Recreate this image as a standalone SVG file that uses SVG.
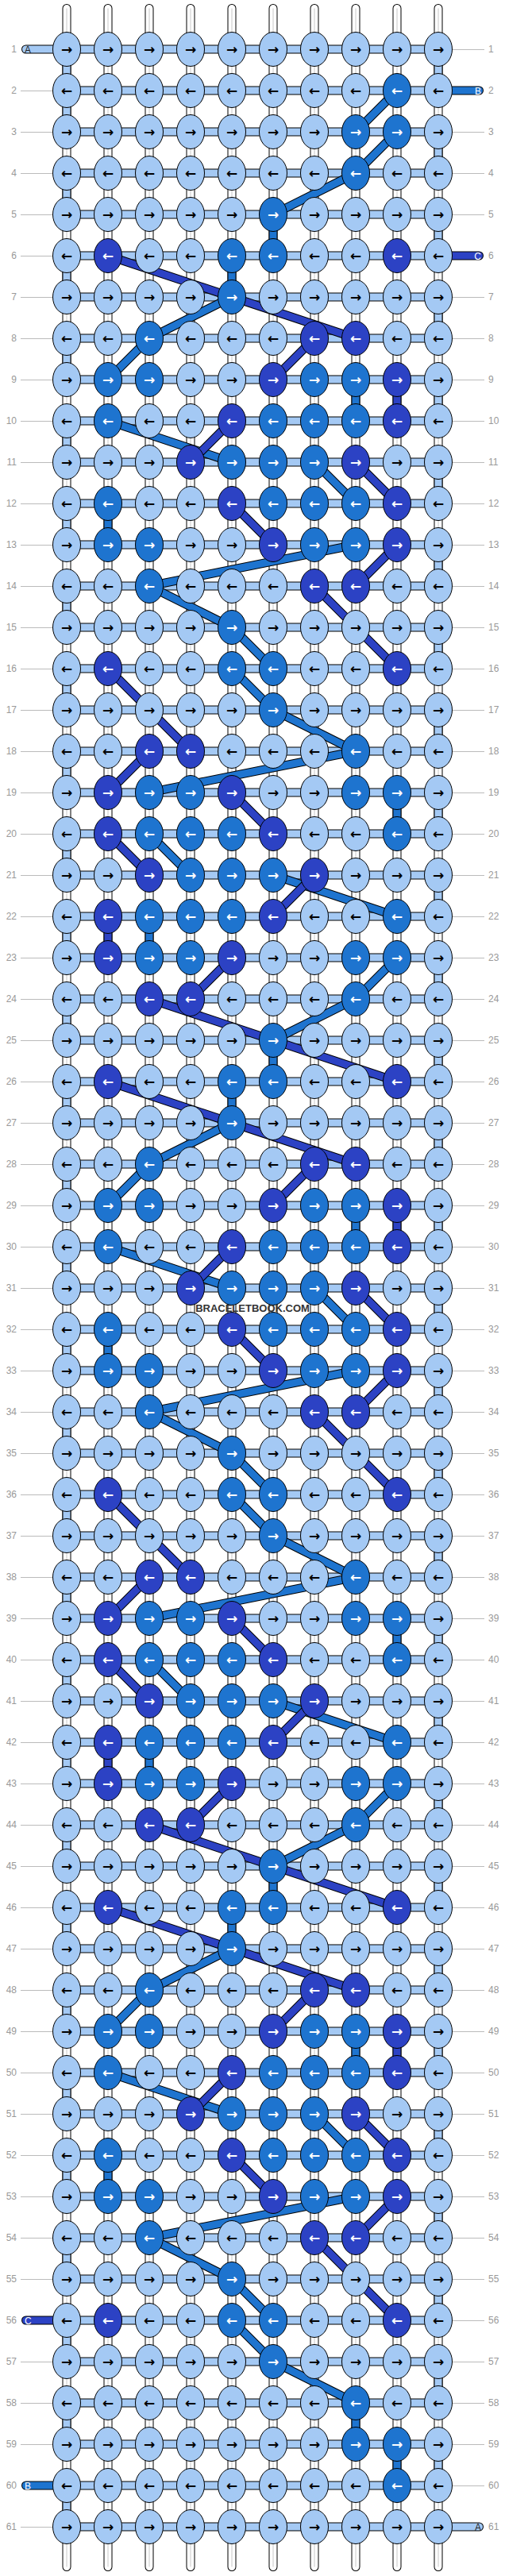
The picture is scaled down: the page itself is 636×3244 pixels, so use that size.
<svg xmlns="http://www.w3.org/2000/svg" xmlns:xlink="http://www.w3.org/1999/xlink" width="636" height="3244" viewBox="0 0 636 3244">
<style>
.sb{stroke:#000;stroke-width:11;stroke-linecap:round;fill:none}
.sw{stroke:#fff;stroke-width:9;stroke-linecap:round;fill:none}
.sg{stroke:#c8c8c8;stroke-width:1;fill:none}
.ob{stroke:#000;stroke-width:11;fill:none}
.obr{stroke:#000;stroke-width:11;stroke-linecap:round;fill:none}
.fl{stroke:#A4C9F4;stroke-width:9;fill:none}
.fm{stroke:#1E74CF;stroke-width:9;fill:none}
.fd{stroke:#2C42C4;stroke-width:9;fill:none}
.rc{stroke-linecap:round}
.ln{stroke:#bbb;stroke-width:1;fill:none}
.ar{font-family:"DejaVu Sans",sans-serif;font-size:17px;font-weight:bold;text-anchor:middle}
.num{font-family:"Liberation Sans",Arial,sans-serif;font-size:12px;fill:#999}
.lab{font-family:"Liberation Sans",Arial,sans-serif;font-size:12px}
.e1{text-anchor:end}
.nL{fill:#A4C9F4;stroke:#000;stroke-width:1}
.nM{fill:#1E74CF;stroke:#000;stroke-width:1}
.nD{fill:#2C42C4;stroke:#000;stroke-width:1}
</style>
<defs>
<g id="Lr"><ellipse class="nL" rx="17.5" ry="21.5"/><text class="ar" y="5.8" fill="#000">→</text></g>
<g id="Ll"><ellipse class="nL" rx="17.5" ry="21.5"/><text class="ar" y="5.8" fill="#000">←</text></g>
<g id="Mr"><ellipse class="nM" rx="17.5" ry="21.5"/><text class="ar" y="5.8" fill="#fff">→</text></g>
<g id="Ml"><ellipse class="nM" rx="17.5" ry="21.5"/><text class="ar" y="5.8" fill="#fff">←</text></g>
<g id="Dr"><ellipse class="nD" rx="17.5" ry="21.5"/><text class="ar" y="5.8" fill="#fff">→</text></g>
<g id="Dl"><ellipse class="nD" rx="17.5" ry="21.5"/><text class="ar" y="5.8" fill="#fff">←</text></g>
<path id="strings" d="M84 10.5V3232.5M136 10.5V3232.5M188 10.5V3232.5M240 10.5V3232.5M292 10.5V3232.5M344 10.5V3232.5M396 10.5V3232.5M448 10.5V3232.5M500 10.5V3232.5M552 10.5V3232.5"/>
<path id="horiz" d="M84 62H552M84 114H552M84 166H552M84 218H552M84 270H552M84 322H552M84 374H552M84 426H552M84 478H552M84 530H552M84 582H552M84 634H552M84 686H552M84 738H552M84 790H552M84 842H552M84 894H552M84 946H552M84 998H552M84 1050H552M84 1102H552M84 1154H552M84 1206H552M84 1258H552M84 1310H552M84 1362H552M84 1414H552M84 1466H552M84 1518H552M84 1570H552M84 1622H552M84 1674H552M84 1726H552M84 1778H552M84 1830H552M84 1882H552M84 1934H552M84 1986H552M84 2038H552M84 2090H552M84 2142H552M84 2194H552M84 2246H552M84 2298H552M84 2350H552M84 2402H552M84 2454H552M84 2506H552M84 2558H552M84 2610H552M84 2662H552M84 2714H552M84 2766H552M84 2818H552M84 2870H552M84 2922H552M84 2974H552M84 3026H552M84 3078H552M84 3130H552M84 3182H552"/>
<path id="bandM" d="M500 114L448 166M500 166L448 218M448 218L344 270M344 270V322
M292 322V374M292 374L188 426M188 426L136 478M448 478V530M136 530L292 582M396 582L448 634M136 634V686M448 686L188 738M188 738L292 790M292 790L344 842M292 842L344 894M344 894L448 946M448 946L188 998M500 998V1050M188 1050L240 1102M344 1102L500 1154M188 1154V1206M500 1206L448 1258M448 1258L344 1310M344 1310V1362
M292 1362V1414M292 1414L188 1466M188 1466L136 1518M448 1518V1570M136 1570L292 1622M396 1622L448 1674M136 1674V1726M448 1726L188 1778M188 1778L292 1830M292 1830L344 1882M292 1882L344 1934M344 1934L448 1986M448 1986L188 2038M500 2038V2090M188 2090L240 2142M344 2142L500 2194M188 2194V2246M500 2246L448 2298M448 2298L344 2350M344 2350V2402
M292 2402V2454M292 2454L188 2506M188 2506L136 2558M448 2558V2610M136 2610L292 2662M396 2662L448 2714M136 2714V2766M448 2766L188 2818M188 2818L292 2870M292 2870L344 2922M292 2922L344 2974M344 2974L448 3026M448 3026V3078M500 3078V3130"/>
<path id="bandD" d="M136 322L448 426M396 426L344 478M500 478V530M292 530L240 582M448 582L500 634M292 634L344 686M500 686L448 738M396 738L500 842M136 842L240 946M188 946L136 998M292 998L344 1050M136 1050L188 1102M396 1102L344 1154M136 1154V1206M292 1206L240 1258M188 1258L500 1362
M136 1362L448 1466M396 1466L344 1518M500 1518V1570M292 1570L240 1622M448 1622L500 1674M292 1674L344 1726M500 1726L448 1778M396 1778L500 1882M136 1882L240 1986M188 1986L136 2038M292 2038L344 2090M136 2090L188 2142M396 2142L344 2194M136 2194V2246M292 2246L240 2298M188 2298L500 2402
M136 2402L448 2506M396 2506L344 2558M500 2558V2610M292 2610L240 2662M448 2662L500 2714M292 2714L344 2766M500 2766L448 2818M396 2818L500 2922"/>
</defs>
<rect width="636" height="3244" fill="#fff"/>
<g id="connectors">
<use href="#strings" class="sb"/>
<use href="#strings" class="sw"/>
<use href="#strings" class="sg"/>
<use href="#horiz" class="ob"/>
<use href="#horiz" class="fl"/>
<path class="ob" d="M84 62V114"/><path class="fl" d="M84 62V114"/>
<path class="ob" d="M84 114V3182" stroke-dasharray="52 52"/><path class="fl" d="M84 114V3182" stroke-dasharray="52 52"/>
<path class="ob" d="M552 62V3130" stroke-dasharray="52 52"/><path class="fl" d="M552 62V3130" stroke-dasharray="52 52"/>
<path class="ln" d="M26 114.5H66M26 166.5H66M26 218.5H66M26 270.5H66M26 322.5H66M26 374.5H66M26 426.5H66M26 478.5H66M26 530.5H66M26 582.5H66M26 634.5H66M26 686.5H66M26 738.5H66M26 790.5H66M26 842.5H66M26 894.5H66M26 946.5H66M26 998.5H66M26 1050.5H66M26 1102.5H66M26 1154.5H66M26 1206.5H66M26 1258.5H66M26 1310.5H66M26 1362.5H66M26 1414.5H66M26 1466.5H66M26 1518.5H66M26 1570.5H66M26 1622.5H66M26 1674.5H66M26 1726.5H66M26 1778.5H66M26 1830.5H66M26 1882.5H66M26 1934.5H66M26 1986.5H66M26 2038.5H66M26 2090.5H66M26 2142.5H66M26 2194.5H66M26 2246.5H66M26 2298.5H66M26 2350.5H66M26 2402.5H66M26 2454.5H66M26 2506.5H66M26 2558.5H66M26 2610.5H66M26 2662.5H66M26 2714.5H66M26 2766.5H66M26 2818.5H66M26 2870.5H66M26 2974.5H66M26 3026.5H66M26 3078.5H66M26 3182.5H66"/>
<path class="ln" d="M570 62.5H610M570 166.5H610M570 218.5H610M570 270.5H610M570 374.5H610M570 426.5H610M570 478.5H610M570 530.5H610M570 582.5H610M570 634.5H610M570 686.5H610M570 738.5H610M570 790.5H610M570 842.5H610M570 894.5H610M570 946.5H610M570 998.5H610M570 1050.5H610M570 1102.5H610M570 1154.5H610M570 1206.5H610M570 1258.5H610M570 1310.5H610M570 1362.5H610M570 1414.5H610M570 1466.5H610M570 1518.5H610M570 1570.5H610M570 1622.5H610M570 1674.5H610M570 1726.5H610M570 1778.5H610M570 1830.5H610M570 1882.5H610M570 1934.5H610M570 1986.5H610M570 2038.5H610M570 2090.5H610M570 2142.5H610M570 2194.5H610M570 2246.5H610M570 2298.5H610M570 2350.5H610M570 2402.5H610M570 2454.5H610M570 2506.5H610M570 2558.5H610M570 2610.5H610M570 2662.5H610M570 2714.5H610M570 2766.5H610M570 2818.5H610M570 2870.5H610M570 2922.5H610M570 2974.5H610M570 3026.5H610M570 3078.5H610M570 3130.5H610"/>
<use href="#bandM" class="ob"/>
<use href="#bandM" class="fm"/>
<use href="#bandD" class="ob"/>
<use href="#bandD" class="fd"/>
<g id="stubs">
<path class="obr" d="M32.5 62H84"/><path class="fl rc" d="M32.5 62H84"/>
<path class="obr" d="M552 114H603.5"/><path class="fm rc" d="M552 114H603.5"/>
<path class="obr" d="M552 322H603.5"/><path class="fd rc" d="M552 322H603.5"/>
<path class="obr" d="M32.5 2922H84"/><path class="fd rc" d="M32.5 2922H84"/>
<path class="obr" d="M32.5 3130H84"/><path class="fm rc" d="M32.5 3130H84"/>
<path class="obr" d="M552 3182H603.5"/><path class="fl rc" d="M552 3182H603.5"/>
<text class="lab" x="31" y="66.5" fill="#222">A</text>
<text class="lab e1" x="606" y="118.5" fill="#fff">B</text>
<text class="lab e1" x="606" y="326.5" fill="#fff">C</text>
<text class="lab" x="31" y="2926.5" fill="#fff">C</text>
<text class="lab" x="31" y="3134.5" fill="#fff">B</text>
<text class="lab e1" x="606" y="3186.5" fill="#222">A</text>
</g>
</g>
<g id="rownumbers" class="num">
<g class="e1">
<text x="21" y="66">1</text><text x="21" y="118">2</text><text x="21" y="170">3</text><text x="21" y="222">4</text><text x="21" y="274">5</text><text x="21" y="326">6</text><text x="21" y="378">7</text><text x="21" y="430">8</text><text x="21" y="482">9</text><text x="21" y="534">10</text><text x="21" y="586">11</text><text x="21" y="638">12</text><text x="21" y="690">13</text><text x="21" y="742">14</text><text x="21" y="794">15</text><text x="21" y="846">16</text><text x="21" y="898">17</text><text x="21" y="950">18</text><text x="21" y="1002">19</text><text x="21" y="1054">20</text><text x="21" y="1106">21</text><text x="21" y="1158">22</text><text x="21" y="1210">23</text><text x="21" y="1262">24</text><text x="21" y="1314">25</text><text x="21" y="1366">26</text><text x="21" y="1418">27</text><text x="21" y="1470">28</text><text x="21" y="1522">29</text><text x="21" y="1574">30</text><text x="21" y="1626">31</text><text x="21" y="1678">32</text><text x="21" y="1730">33</text><text x="21" y="1782">34</text><text x="21" y="1834">35</text><text x="21" y="1886">36</text><text x="21" y="1938">37</text><text x="21" y="1990">38</text><text x="21" y="2042">39</text><text x="21" y="2094">40</text><text x="21" y="2146">41</text><text x="21" y="2198">42</text><text x="21" y="2250">43</text><text x="21" y="2302">44</text><text x="21" y="2354">45</text><text x="21" y="2406">46</text><text x="21" y="2458">47</text><text x="21" y="2510">48</text><text x="21" y="2562">49</text><text x="21" y="2614">50</text><text x="21" y="2666">51</text><text x="21" y="2718">52</text><text x="21" y="2770">53</text><text x="21" y="2822">54</text><text x="21" y="2874">55</text><text x="21" y="2926">56</text><text x="21" y="2978">57</text><text x="21" y="3030">58</text><text x="21" y="3082">59</text><text x="21" y="3134">60</text><text x="21" y="3186">61</text>
</g>
<text x="615" y="66">1</text><text x="615" y="118">2</text><text x="615" y="170">3</text><text x="615" y="222">4</text><text x="615" y="274">5</text><text x="615" y="326">6</text><text x="615" y="378">7</text><text x="615" y="430">8</text><text x="615" y="482">9</text><text x="615" y="534">10</text><text x="615" y="586">11</text><text x="615" y="638">12</text><text x="615" y="690">13</text><text x="615" y="742">14</text><text x="615" y="794">15</text><text x="615" y="846">16</text><text x="615" y="898">17</text><text x="615" y="950">18</text><text x="615" y="1002">19</text><text x="615" y="1054">20</text><text x="615" y="1106">21</text><text x="615" y="1158">22</text><text x="615" y="1210">23</text><text x="615" y="1262">24</text><text x="615" y="1314">25</text><text x="615" y="1366">26</text><text x="615" y="1418">27</text><text x="615" y="1470">28</text><text x="615" y="1522">29</text><text x="615" y="1574">30</text><text x="615" y="1626">31</text><text x="615" y="1678">32</text><text x="615" y="1730">33</text><text x="615" y="1782">34</text><text x="615" y="1834">35</text><text x="615" y="1886">36</text><text x="615" y="1938">37</text><text x="615" y="1990">38</text><text x="615" y="2042">39</text><text x="615" y="2094">40</text><text x="615" y="2146">41</text><text x="615" y="2198">42</text><text x="615" y="2250">43</text><text x="615" y="2302">44</text><text x="615" y="2354">45</text><text x="615" y="2406">46</text><text x="615" y="2458">47</text><text x="615" y="2510">48</text><text x="615" y="2562">49</text><text x="615" y="2614">50</text><text x="615" y="2666">51</text><text x="615" y="2718">52</text><text x="615" y="2770">53</text><text x="615" y="2822">54</text><text x="615" y="2874">55</text><text x="615" y="2926">56</text><text x="615" y="2978">57</text><text x="615" y="3030">58</text><text x="615" y="3082">59</text><text x="615" y="3134">60</text><text x="615" y="3186">61</text>
</g>
<g id="nodes">
<use id="n1-1" href="#Lr" x="84" y="62"/><use id="n1-2" href="#Lr" x="136" y="62"/><use id="n1-3" href="#Lr" x="188" y="62"/><use id="n1-4" href="#Lr" x="240" y="62"/><use id="n1-5" href="#Lr" x="292" y="62"/><use id="n1-6" href="#Lr" x="344" y="62"/><use id="n1-7" href="#Lr" x="396" y="62"/><use id="n1-8" href="#Lr" x="448" y="62"/><use id="n1-9" href="#Lr" x="500" y="62"/><use id="n1-10" href="#Lr" x="552" y="62"/>
<use id="n2-1" href="#Ll" x="84" y="114"/><use id="n2-2" href="#Ll" x="136" y="114"/><use id="n2-3" href="#Ll" x="188" y="114"/><use id="n2-4" href="#Ll" x="240" y="114"/><use id="n2-5" href="#Ll" x="292" y="114"/><use id="n2-6" href="#Ll" x="344" y="114"/><use id="n2-7" href="#Ll" x="396" y="114"/><use id="n2-8" href="#Ll" x="448" y="114"/><use id="n2-9" href="#Ml" x="500" y="114"/><use id="n2-10" href="#Ll" x="552" y="114"/>
<use id="n3-1" href="#Lr" x="84" y="166"/><use id="n3-2" href="#Lr" x="136" y="166"/><use id="n3-3" href="#Lr" x="188" y="166"/><use id="n3-4" href="#Lr" x="240" y="166"/><use id="n3-5" href="#Lr" x="292" y="166"/><use id="n3-6" href="#Lr" x="344" y="166"/><use id="n3-7" href="#Lr" x="396" y="166"/><use id="n3-8" href="#Mr" x="448" y="166"/><use id="n3-9" href="#Mr" x="500" y="166"/><use id="n3-10" href="#Lr" x="552" y="166"/>
<use id="n4-1" href="#Ll" x="84" y="218"/><use id="n4-2" href="#Ll" x="136" y="218"/><use id="n4-3" href="#Ll" x="188" y="218"/><use id="n4-4" href="#Ll" x="240" y="218"/><use id="n4-5" href="#Ll" x="292" y="218"/><use id="n4-6" href="#Ll" x="344" y="218"/><use id="n4-7" href="#Ll" x="396" y="218"/><use id="n4-8" href="#Ml" x="448" y="218"/><use id="n4-9" href="#Ll" x="500" y="218"/><use id="n4-10" href="#Ll" x="552" y="218"/>
<use id="n5-1" href="#Lr" x="84" y="270"/><use id="n5-2" href="#Lr" x="136" y="270"/><use id="n5-3" href="#Lr" x="188" y="270"/><use id="n5-4" href="#Lr" x="240" y="270"/><use id="n5-5" href="#Lr" x="292" y="270"/><use id="n5-6" href="#Mr" x="344" y="270"/><use id="n5-7" href="#Lr" x="396" y="270"/><use id="n5-8" href="#Lr" x="448" y="270"/><use id="n5-9" href="#Lr" x="500" y="270"/><use id="n5-10" href="#Lr" x="552" y="270"/>
<use id="n6-1" href="#Ll" x="84" y="322"/><use id="n6-2" href="#Dl" x="136" y="322"/><use id="n6-3" href="#Ll" x="188" y="322"/><use id="n6-4" href="#Ll" x="240" y="322"/><use id="n6-5" href="#Ml" x="292" y="322"/><use id="n6-6" href="#Ml" x="344" y="322"/><use id="n6-7" href="#Ll" x="396" y="322"/><use id="n6-8" href="#Ll" x="448" y="322"/><use id="n6-9" href="#Dl" x="500" y="322"/><use id="n6-10" href="#Ll" x="552" y="322"/>
<use id="n7-1" href="#Lr" x="84" y="374"/><use id="n7-2" href="#Lr" x="136" y="374"/><use id="n7-3" href="#Lr" x="188" y="374"/><use id="n7-4" href="#Lr" x="240" y="374"/><use id="n7-5" href="#Mr" x="292" y="374"/><use id="n7-6" href="#Lr" x="344" y="374"/><use id="n7-7" href="#Lr" x="396" y="374"/><use id="n7-8" href="#Lr" x="448" y="374"/><use id="n7-9" href="#Lr" x="500" y="374"/><use id="n7-10" href="#Lr" x="552" y="374"/>
<use id="n8-1" href="#Ll" x="84" y="426"/><use id="n8-2" href="#Ll" x="136" y="426"/><use id="n8-3" href="#Ml" x="188" y="426"/><use id="n8-4" href="#Ll" x="240" y="426"/><use id="n8-5" href="#Ll" x="292" y="426"/><use id="n8-6" href="#Ll" x="344" y="426"/><use id="n8-7" href="#Dl" x="396" y="426"/><use id="n8-8" href="#Dl" x="448" y="426"/><use id="n8-9" href="#Ll" x="500" y="426"/><use id="n8-10" href="#Ll" x="552" y="426"/>
<use id="n9-1" href="#Lr" x="84" y="478"/><use id="n9-2" href="#Mr" x="136" y="478"/><use id="n9-3" href="#Mr" x="188" y="478"/><use id="n9-4" href="#Lr" x="240" y="478"/><use id="n9-5" href="#Lr" x="292" y="478"/><use id="n9-6" href="#Dr" x="344" y="478"/><use id="n9-7" href="#Mr" x="396" y="478"/><use id="n9-8" href="#Mr" x="448" y="478"/><use id="n9-9" href="#Dr" x="500" y="478"/><use id="n9-10" href="#Lr" x="552" y="478"/>
<use id="n10-1" href="#Ll" x="84" y="530"/><use id="n10-2" href="#Ml" x="136" y="530"/><use id="n10-3" href="#Ll" x="188" y="530"/><use id="n10-4" href="#Ll" x="240" y="530"/><use id="n10-5" href="#Dl" x="292" y="530"/><use id="n10-6" href="#Ml" x="344" y="530"/><use id="n10-7" href="#Ml" x="396" y="530"/><use id="n10-8" href="#Ml" x="448" y="530"/><use id="n10-9" href="#Dl" x="500" y="530"/><use id="n10-10" href="#Ll" x="552" y="530"/>
<use id="n11-1" href="#Lr" x="84" y="582"/><use id="n11-2" href="#Lr" x="136" y="582"/><use id="n11-3" href="#Lr" x="188" y="582"/><use id="n11-4" href="#Dr" x="240" y="582"/><use id="n11-5" href="#Mr" x="292" y="582"/><use id="n11-6" href="#Mr" x="344" y="582"/><use id="n11-7" href="#Mr" x="396" y="582"/><use id="n11-8" href="#Dr" x="448" y="582"/><use id="n11-9" href="#Lr" x="500" y="582"/><use id="n11-10" href="#Lr" x="552" y="582"/>
<use id="n12-1" href="#Ll" x="84" y="634"/><use id="n12-2" href="#Ml" x="136" y="634"/><use id="n12-3" href="#Ll" x="188" y="634"/><use id="n12-4" href="#Ll" x="240" y="634"/><use id="n12-5" href="#Dl" x="292" y="634"/><use id="n12-6" href="#Ml" x="344" y="634"/><use id="n12-7" href="#Ml" x="396" y="634"/><use id="n12-8" href="#Ml" x="448" y="634"/><use id="n12-9" href="#Dl" x="500" y="634"/><use id="n12-10" href="#Ll" x="552" y="634"/>
<use id="n13-1" href="#Lr" x="84" y="686"/><use id="n13-2" href="#Mr" x="136" y="686"/><use id="n13-3" href="#Mr" x="188" y="686"/><use id="n13-4" href="#Lr" x="240" y="686"/><use id="n13-5" href="#Lr" x="292" y="686"/><use id="n13-6" href="#Dr" x="344" y="686"/><use id="n13-7" href="#Mr" x="396" y="686"/><use id="n13-8" href="#Mr" x="448" y="686"/><use id="n13-9" href="#Dr" x="500" y="686"/><use id="n13-10" href="#Lr" x="552" y="686"/>
<use id="n14-1" href="#Ll" x="84" y="738"/><use id="n14-2" href="#Ll" x="136" y="738"/><use id="n14-3" href="#Ml" x="188" y="738"/><use id="n14-4" href="#Ll" x="240" y="738"/><use id="n14-5" href="#Ll" x="292" y="738"/><use id="n14-6" href="#Ll" x="344" y="738"/><use id="n14-7" href="#Dl" x="396" y="738"/><use id="n14-8" href="#Dl" x="448" y="738"/><use id="n14-9" href="#Ll" x="500" y="738"/><use id="n14-10" href="#Ll" x="552" y="738"/>
<use id="n15-1" href="#Lr" x="84" y="790"/><use id="n15-2" href="#Lr" x="136" y="790"/><use id="n15-3" href="#Lr" x="188" y="790"/><use id="n15-4" href="#Lr" x="240" y="790"/><use id="n15-5" href="#Mr" x="292" y="790"/><use id="n15-6" href="#Lr" x="344" y="790"/><use id="n15-7" href="#Lr" x="396" y="790"/><use id="n15-8" href="#Lr" x="448" y="790"/><use id="n15-9" href="#Lr" x="500" y="790"/><use id="n15-10" href="#Lr" x="552" y="790"/>
<use id="n16-1" href="#Ll" x="84" y="842"/><use id="n16-2" href="#Dl" x="136" y="842"/><use id="n16-3" href="#Ll" x="188" y="842"/><use id="n16-4" href="#Ll" x="240" y="842"/><use id="n16-5" href="#Ml" x="292" y="842"/><use id="n16-6" href="#Ml" x="344" y="842"/><use id="n16-7" href="#Ll" x="396" y="842"/><use id="n16-8" href="#Ll" x="448" y="842"/><use id="n16-9" href="#Dl" x="500" y="842"/><use id="n16-10" href="#Ll" x="552" y="842"/>
<use id="n17-1" href="#Lr" x="84" y="894"/><use id="n17-2" href="#Lr" x="136" y="894"/><use id="n17-3" href="#Lr" x="188" y="894"/><use id="n17-4" href="#Lr" x="240" y="894"/><use id="n17-5" href="#Lr" x="292" y="894"/><use id="n17-6" href="#Mr" x="344" y="894"/><use id="n17-7" href="#Lr" x="396" y="894"/><use id="n17-8" href="#Lr" x="448" y="894"/><use id="n17-9" href="#Lr" x="500" y="894"/><use id="n17-10" href="#Lr" x="552" y="894"/>
<use id="n18-1" href="#Ll" x="84" y="946"/><use id="n18-2" href="#Ll" x="136" y="946"/><use id="n18-3" href="#Dl" x="188" y="946"/><use id="n18-4" href="#Dl" x="240" y="946"/><use id="n18-5" href="#Ll" x="292" y="946"/><use id="n18-6" href="#Ll" x="344" y="946"/><use id="n18-7" href="#Ll" x="396" y="946"/><use id="n18-8" href="#Ml" x="448" y="946"/><use id="n18-9" href="#Ll" x="500" y="946"/><use id="n18-10" href="#Ll" x="552" y="946"/>
<use id="n19-1" href="#Lr" x="84" y="998"/><use id="n19-2" href="#Dr" x="136" y="998"/><use id="n19-3" href="#Mr" x="188" y="998"/><use id="n19-4" href="#Mr" x="240" y="998"/><use id="n19-5" href="#Dr" x="292" y="998"/><use id="n19-6" href="#Lr" x="344" y="998"/><use id="n19-7" href="#Lr" x="396" y="998"/><use id="n19-8" href="#Mr" x="448" y="998"/><use id="n19-9" href="#Mr" x="500" y="998"/><use id="n19-10" href="#Lr" x="552" y="998"/>
<use id="n20-1" href="#Ll" x="84" y="1050"/><use id="n20-2" href="#Dl" x="136" y="1050"/><use id="n20-3" href="#Ml" x="188" y="1050"/><use id="n20-4" href="#Ml" x="240" y="1050"/><use id="n20-5" href="#Ml" x="292" y="1050"/><use id="n20-6" href="#Dl" x="344" y="1050"/><use id="n20-7" href="#Ll" x="396" y="1050"/><use id="n20-8" href="#Ll" x="448" y="1050"/><use id="n20-9" href="#Ml" x="500" y="1050"/><use id="n20-10" href="#Ll" x="552" y="1050"/>
<use id="n21-1" href="#Lr" x="84" y="1102"/><use id="n21-2" href="#Lr" x="136" y="1102"/><use id="n21-3" href="#Dr" x="188" y="1102"/><use id="n21-4" href="#Mr" x="240" y="1102"/><use id="n21-5" href="#Mr" x="292" y="1102"/><use id="n21-6" href="#Mr" x="344" y="1102"/><use id="n21-7" href="#Dr" x="396" y="1102"/><use id="n21-8" href="#Lr" x="448" y="1102"/><use id="n21-9" href="#Lr" x="500" y="1102"/><use id="n21-10" href="#Lr" x="552" y="1102"/>
<use id="n22-1" href="#Ll" x="84" y="1154"/><use id="n22-2" href="#Dl" x="136" y="1154"/><use id="n22-3" href="#Ml" x="188" y="1154"/><use id="n22-4" href="#Ml" x="240" y="1154"/><use id="n22-5" href="#Ml" x="292" y="1154"/><use id="n22-6" href="#Dl" x="344" y="1154"/><use id="n22-7" href="#Ll" x="396" y="1154"/><use id="n22-8" href="#Ll" x="448" y="1154"/><use id="n22-9" href="#Ml" x="500" y="1154"/><use id="n22-10" href="#Ll" x="552" y="1154"/>
<use id="n23-1" href="#Lr" x="84" y="1206"/><use id="n23-2" href="#Dr" x="136" y="1206"/><use id="n23-3" href="#Mr" x="188" y="1206"/><use id="n23-4" href="#Mr" x="240" y="1206"/><use id="n23-5" href="#Dr" x="292" y="1206"/><use id="n23-6" href="#Lr" x="344" y="1206"/><use id="n23-7" href="#Lr" x="396" y="1206"/><use id="n23-8" href="#Mr" x="448" y="1206"/><use id="n23-9" href="#Mr" x="500" y="1206"/><use id="n23-10" href="#Lr" x="552" y="1206"/>
<use id="n24-1" href="#Ll" x="84" y="1258"/><use id="n24-2" href="#Ll" x="136" y="1258"/><use id="n24-3" href="#Dl" x="188" y="1258"/><use id="n24-4" href="#Dl" x="240" y="1258"/><use id="n24-5" href="#Ll" x="292" y="1258"/><use id="n24-6" href="#Ll" x="344" y="1258"/><use id="n24-7" href="#Ll" x="396" y="1258"/><use id="n24-8" href="#Ml" x="448" y="1258"/><use id="n24-9" href="#Ll" x="500" y="1258"/><use id="n24-10" href="#Ll" x="552" y="1258"/>
<use id="n25-1" href="#Lr" x="84" y="1310"/><use id="n25-2" href="#Lr" x="136" y="1310"/><use id="n25-3" href="#Lr" x="188" y="1310"/><use id="n25-4" href="#Lr" x="240" y="1310"/><use id="n25-5" href="#Lr" x="292" y="1310"/><use id="n25-6" href="#Mr" x="344" y="1310"/><use id="n25-7" href="#Lr" x="396" y="1310"/><use id="n25-8" href="#Lr" x="448" y="1310"/><use id="n25-9" href="#Lr" x="500" y="1310"/><use id="n25-10" href="#Lr" x="552" y="1310"/>
<use id="n26-1" href="#Ll" x="84" y="1362"/><use id="n26-2" href="#Dl" x="136" y="1362"/><use id="n26-3" href="#Ll" x="188" y="1362"/><use id="n26-4" href="#Ll" x="240" y="1362"/><use id="n26-5" href="#Ml" x="292" y="1362"/><use id="n26-6" href="#Ml" x="344" y="1362"/><use id="n26-7" href="#Ll" x="396" y="1362"/><use id="n26-8" href="#Ll" x="448" y="1362"/><use id="n26-9" href="#Dl" x="500" y="1362"/><use id="n26-10" href="#Ll" x="552" y="1362"/>
<use id="n27-1" href="#Lr" x="84" y="1414"/><use id="n27-2" href="#Lr" x="136" y="1414"/><use id="n27-3" href="#Lr" x="188" y="1414"/><use id="n27-4" href="#Lr" x="240" y="1414"/><use id="n27-5" href="#Mr" x="292" y="1414"/><use id="n27-6" href="#Lr" x="344" y="1414"/><use id="n27-7" href="#Lr" x="396" y="1414"/><use id="n27-8" href="#Lr" x="448" y="1414"/><use id="n27-9" href="#Lr" x="500" y="1414"/><use id="n27-10" href="#Lr" x="552" y="1414"/>
<use id="n28-1" href="#Ll" x="84" y="1466"/><use id="n28-2" href="#Ll" x="136" y="1466"/><use id="n28-3" href="#Ml" x="188" y="1466"/><use id="n28-4" href="#Ll" x="240" y="1466"/><use id="n28-5" href="#Ll" x="292" y="1466"/><use id="n28-6" href="#Ll" x="344" y="1466"/><use id="n28-7" href="#Dl" x="396" y="1466"/><use id="n28-8" href="#Dl" x="448" y="1466"/><use id="n28-9" href="#Ll" x="500" y="1466"/><use id="n28-10" href="#Ll" x="552" y="1466"/>
<use id="n29-1" href="#Lr" x="84" y="1518"/><use id="n29-2" href="#Mr" x="136" y="1518"/><use id="n29-3" href="#Mr" x="188" y="1518"/><use id="n29-4" href="#Lr" x="240" y="1518"/><use id="n29-5" href="#Lr" x="292" y="1518"/><use id="n29-6" href="#Dr" x="344" y="1518"/><use id="n29-7" href="#Mr" x="396" y="1518"/><use id="n29-8" href="#Mr" x="448" y="1518"/><use id="n29-9" href="#Dr" x="500" y="1518"/><use id="n29-10" href="#Lr" x="552" y="1518"/>
<use id="n30-1" href="#Ll" x="84" y="1570"/><use id="n30-2" href="#Ml" x="136" y="1570"/><use id="n30-3" href="#Ll" x="188" y="1570"/><use id="n30-4" href="#Ll" x="240" y="1570"/><use id="n30-5" href="#Dl" x="292" y="1570"/><use id="n30-6" href="#Ml" x="344" y="1570"/><use id="n30-7" href="#Ml" x="396" y="1570"/><use id="n30-8" href="#Ml" x="448" y="1570"/><use id="n30-9" href="#Dl" x="500" y="1570"/><use id="n30-10" href="#Ll" x="552" y="1570"/>
<use id="n31-1" href="#Lr" x="84" y="1622"/><use id="n31-2" href="#Lr" x="136" y="1622"/><use id="n31-3" href="#Lr" x="188" y="1622"/><use id="n31-4" href="#Dr" x="240" y="1622"/><use id="n31-5" href="#Mr" x="292" y="1622"/><use id="n31-6" href="#Mr" x="344" y="1622"/><use id="n31-7" href="#Mr" x="396" y="1622"/><use id="n31-8" href="#Dr" x="448" y="1622"/><use id="n31-9" href="#Lr" x="500" y="1622"/><use id="n31-10" href="#Lr" x="552" y="1622"/>
<use id="n32-1" href="#Ll" x="84" y="1674"/><use id="n32-2" href="#Ml" x="136" y="1674"/><use id="n32-3" href="#Ll" x="188" y="1674"/><use id="n32-4" href="#Ll" x="240" y="1674"/><use id="n32-5" href="#Dl" x="292" y="1674"/><use id="n32-6" href="#Ml" x="344" y="1674"/><use id="n32-7" href="#Ml" x="396" y="1674"/><use id="n32-8" href="#Ml" x="448" y="1674"/><use id="n32-9" href="#Dl" x="500" y="1674"/><use id="n32-10" href="#Ll" x="552" y="1674"/>
<use id="n33-1" href="#Lr" x="84" y="1726"/><use id="n33-2" href="#Mr" x="136" y="1726"/><use id="n33-3" href="#Mr" x="188" y="1726"/><use id="n33-4" href="#Lr" x="240" y="1726"/><use id="n33-5" href="#Lr" x="292" y="1726"/><use id="n33-6" href="#Dr" x="344" y="1726"/><use id="n33-7" href="#Mr" x="396" y="1726"/><use id="n33-8" href="#Mr" x="448" y="1726"/><use id="n33-9" href="#Dr" x="500" y="1726"/><use id="n33-10" href="#Lr" x="552" y="1726"/>
<use id="n34-1" href="#Ll" x="84" y="1778"/><use id="n34-2" href="#Ll" x="136" y="1778"/><use id="n34-3" href="#Ml" x="188" y="1778"/><use id="n34-4" href="#Ll" x="240" y="1778"/><use id="n34-5" href="#Ll" x="292" y="1778"/><use id="n34-6" href="#Ll" x="344" y="1778"/><use id="n34-7" href="#Dl" x="396" y="1778"/><use id="n34-8" href="#Dl" x="448" y="1778"/><use id="n34-9" href="#Ll" x="500" y="1778"/><use id="n34-10" href="#Ll" x="552" y="1778"/>
<use id="n35-1" href="#Lr" x="84" y="1830"/><use id="n35-2" href="#Lr" x="136" y="1830"/><use id="n35-3" href="#Lr" x="188" y="1830"/><use id="n35-4" href="#Lr" x="240" y="1830"/><use id="n35-5" href="#Mr" x="292" y="1830"/><use id="n35-6" href="#Lr" x="344" y="1830"/><use id="n35-7" href="#Lr" x="396" y="1830"/><use id="n35-8" href="#Lr" x="448" y="1830"/><use id="n35-9" href="#Lr" x="500" y="1830"/><use id="n35-10" href="#Lr" x="552" y="1830"/>
<use id="n36-1" href="#Ll" x="84" y="1882"/><use id="n36-2" href="#Dl" x="136" y="1882"/><use id="n36-3" href="#Ll" x="188" y="1882"/><use id="n36-4" href="#Ll" x="240" y="1882"/><use id="n36-5" href="#Ml" x="292" y="1882"/><use id="n36-6" href="#Ml" x="344" y="1882"/><use id="n36-7" href="#Ll" x="396" y="1882"/><use id="n36-8" href="#Ll" x="448" y="1882"/><use id="n36-9" href="#Dl" x="500" y="1882"/><use id="n36-10" href="#Ll" x="552" y="1882"/>
<use id="n37-1" href="#Lr" x="84" y="1934"/><use id="n37-2" href="#Lr" x="136" y="1934"/><use id="n37-3" href="#Lr" x="188" y="1934"/><use id="n37-4" href="#Lr" x="240" y="1934"/><use id="n37-5" href="#Lr" x="292" y="1934"/><use id="n37-6" href="#Mr" x="344" y="1934"/><use id="n37-7" href="#Lr" x="396" y="1934"/><use id="n37-8" href="#Lr" x="448" y="1934"/><use id="n37-9" href="#Lr" x="500" y="1934"/><use id="n37-10" href="#Lr" x="552" y="1934"/>
<use id="n38-1" href="#Ll" x="84" y="1986"/><use id="n38-2" href="#Ll" x="136" y="1986"/><use id="n38-3" href="#Dl" x="188" y="1986"/><use id="n38-4" href="#Dl" x="240" y="1986"/><use id="n38-5" href="#Ll" x="292" y="1986"/><use id="n38-6" href="#Ll" x="344" y="1986"/><use id="n38-7" href="#Ll" x="396" y="1986"/><use id="n38-8" href="#Ml" x="448" y="1986"/><use id="n38-9" href="#Ll" x="500" y="1986"/><use id="n38-10" href="#Ll" x="552" y="1986"/>
<use id="n39-1" href="#Lr" x="84" y="2038"/><use id="n39-2" href="#Dr" x="136" y="2038"/><use id="n39-3" href="#Mr" x="188" y="2038"/><use id="n39-4" href="#Mr" x="240" y="2038"/><use id="n39-5" href="#Dr" x="292" y="2038"/><use id="n39-6" href="#Lr" x="344" y="2038"/><use id="n39-7" href="#Lr" x="396" y="2038"/><use id="n39-8" href="#Mr" x="448" y="2038"/><use id="n39-9" href="#Mr" x="500" y="2038"/><use id="n39-10" href="#Lr" x="552" y="2038"/>
<use id="n40-1" href="#Ll" x="84" y="2090"/><use id="n40-2" href="#Dl" x="136" y="2090"/><use id="n40-3" href="#Ml" x="188" y="2090"/><use id="n40-4" href="#Ml" x="240" y="2090"/><use id="n40-5" href="#Ml" x="292" y="2090"/><use id="n40-6" href="#Dl" x="344" y="2090"/><use id="n40-7" href="#Ll" x="396" y="2090"/><use id="n40-8" href="#Ll" x="448" y="2090"/><use id="n40-9" href="#Ml" x="500" y="2090"/><use id="n40-10" href="#Ll" x="552" y="2090"/>
<use id="n41-1" href="#Lr" x="84" y="2142"/><use id="n41-2" href="#Lr" x="136" y="2142"/><use id="n41-3" href="#Dr" x="188" y="2142"/><use id="n41-4" href="#Mr" x="240" y="2142"/><use id="n41-5" href="#Mr" x="292" y="2142"/><use id="n41-6" href="#Mr" x="344" y="2142"/><use id="n41-7" href="#Dr" x="396" y="2142"/><use id="n41-8" href="#Lr" x="448" y="2142"/><use id="n41-9" href="#Lr" x="500" y="2142"/><use id="n41-10" href="#Lr" x="552" y="2142"/>
<use id="n42-1" href="#Ll" x="84" y="2194"/><use id="n42-2" href="#Dl" x="136" y="2194"/><use id="n42-3" href="#Ml" x="188" y="2194"/><use id="n42-4" href="#Ml" x="240" y="2194"/><use id="n42-5" href="#Ml" x="292" y="2194"/><use id="n42-6" href="#Dl" x="344" y="2194"/><use id="n42-7" href="#Ll" x="396" y="2194"/><use id="n42-8" href="#Ll" x="448" y="2194"/><use id="n42-9" href="#Ml" x="500" y="2194"/><use id="n42-10" href="#Ll" x="552" y="2194"/>
<use id="n43-1" href="#Lr" x="84" y="2246"/><use id="n43-2" href="#Dr" x="136" y="2246"/><use id="n43-3" href="#Mr" x="188" y="2246"/><use id="n43-4" href="#Mr" x="240" y="2246"/><use id="n43-5" href="#Dr" x="292" y="2246"/><use id="n43-6" href="#Lr" x="344" y="2246"/><use id="n43-7" href="#Lr" x="396" y="2246"/><use id="n43-8" href="#Mr" x="448" y="2246"/><use id="n43-9" href="#Mr" x="500" y="2246"/><use id="n43-10" href="#Lr" x="552" y="2246"/>
<use id="n44-1" href="#Ll" x="84" y="2298"/><use id="n44-2" href="#Ll" x="136" y="2298"/><use id="n44-3" href="#Dl" x="188" y="2298"/><use id="n44-4" href="#Dl" x="240" y="2298"/><use id="n44-5" href="#Ll" x="292" y="2298"/><use id="n44-6" href="#Ll" x="344" y="2298"/><use id="n44-7" href="#Ll" x="396" y="2298"/><use id="n44-8" href="#Ml" x="448" y="2298"/><use id="n44-9" href="#Ll" x="500" y="2298"/><use id="n44-10" href="#Ll" x="552" y="2298"/>
<use id="n45-1" href="#Lr" x="84" y="2350"/><use id="n45-2" href="#Lr" x="136" y="2350"/><use id="n45-3" href="#Lr" x="188" y="2350"/><use id="n45-4" href="#Lr" x="240" y="2350"/><use id="n45-5" href="#Lr" x="292" y="2350"/><use id="n45-6" href="#Mr" x="344" y="2350"/><use id="n45-7" href="#Lr" x="396" y="2350"/><use id="n45-8" href="#Lr" x="448" y="2350"/><use id="n45-9" href="#Lr" x="500" y="2350"/><use id="n45-10" href="#Lr" x="552" y="2350"/>
<use id="n46-1" href="#Ll" x="84" y="2402"/><use id="n46-2" href="#Dl" x="136" y="2402"/><use id="n46-3" href="#Ll" x="188" y="2402"/><use id="n46-4" href="#Ll" x="240" y="2402"/><use id="n46-5" href="#Ml" x="292" y="2402"/><use id="n46-6" href="#Ml" x="344" y="2402"/><use id="n46-7" href="#Ll" x="396" y="2402"/><use id="n46-8" href="#Ll" x="448" y="2402"/><use id="n46-9" href="#Dl" x="500" y="2402"/><use id="n46-10" href="#Ll" x="552" y="2402"/>
<use id="n47-1" href="#Lr" x="84" y="2454"/><use id="n47-2" href="#Lr" x="136" y="2454"/><use id="n47-3" href="#Lr" x="188" y="2454"/><use id="n47-4" href="#Lr" x="240" y="2454"/><use id="n47-5" href="#Mr" x="292" y="2454"/><use id="n47-6" href="#Lr" x="344" y="2454"/><use id="n47-7" href="#Lr" x="396" y="2454"/><use id="n47-8" href="#Lr" x="448" y="2454"/><use id="n47-9" href="#Lr" x="500" y="2454"/><use id="n47-10" href="#Lr" x="552" y="2454"/>
<use id="n48-1" href="#Ll" x="84" y="2506"/><use id="n48-2" href="#Ll" x="136" y="2506"/><use id="n48-3" href="#Ml" x="188" y="2506"/><use id="n48-4" href="#Ll" x="240" y="2506"/><use id="n48-5" href="#Ll" x="292" y="2506"/><use id="n48-6" href="#Ll" x="344" y="2506"/><use id="n48-7" href="#Dl" x="396" y="2506"/><use id="n48-8" href="#Dl" x="448" y="2506"/><use id="n48-9" href="#Ll" x="500" y="2506"/><use id="n48-10" href="#Ll" x="552" y="2506"/>
<use id="n49-1" href="#Lr" x="84" y="2558"/><use id="n49-2" href="#Mr" x="136" y="2558"/><use id="n49-3" href="#Mr" x="188" y="2558"/><use id="n49-4" href="#Lr" x="240" y="2558"/><use id="n49-5" href="#Lr" x="292" y="2558"/><use id="n49-6" href="#Dr" x="344" y="2558"/><use id="n49-7" href="#Mr" x="396" y="2558"/><use id="n49-8" href="#Mr" x="448" y="2558"/><use id="n49-9" href="#Dr" x="500" y="2558"/><use id="n49-10" href="#Lr" x="552" y="2558"/>
<use id="n50-1" href="#Ll" x="84" y="2610"/><use id="n50-2" href="#Ml" x="136" y="2610"/><use id="n50-3" href="#Ll" x="188" y="2610"/><use id="n50-4" href="#Ll" x="240" y="2610"/><use id="n50-5" href="#Dl" x="292" y="2610"/><use id="n50-6" href="#Ml" x="344" y="2610"/><use id="n50-7" href="#Ml" x="396" y="2610"/><use id="n50-8" href="#Ml" x="448" y="2610"/><use id="n50-9" href="#Dl" x="500" y="2610"/><use id="n50-10" href="#Ll" x="552" y="2610"/>
<use id="n51-1" href="#Lr" x="84" y="2662"/><use id="n51-2" href="#Lr" x="136" y="2662"/><use id="n51-3" href="#Lr" x="188" y="2662"/><use id="n51-4" href="#Dr" x="240" y="2662"/><use id="n51-5" href="#Mr" x="292" y="2662"/><use id="n51-6" href="#Mr" x="344" y="2662"/><use id="n51-7" href="#Mr" x="396" y="2662"/><use id="n51-8" href="#Dr" x="448" y="2662"/><use id="n51-9" href="#Lr" x="500" y="2662"/><use id="n51-10" href="#Lr" x="552" y="2662"/>
<use id="n52-1" href="#Ll" x="84" y="2714"/><use id="n52-2" href="#Ml" x="136" y="2714"/><use id="n52-3" href="#Ll" x="188" y="2714"/><use id="n52-4" href="#Ll" x="240" y="2714"/><use id="n52-5" href="#Dl" x="292" y="2714"/><use id="n52-6" href="#Ml" x="344" y="2714"/><use id="n52-7" href="#Ml" x="396" y="2714"/><use id="n52-8" href="#Ml" x="448" y="2714"/><use id="n52-9" href="#Dl" x="500" y="2714"/><use id="n52-10" href="#Ll" x="552" y="2714"/>
<use id="n53-1" href="#Lr" x="84" y="2766"/><use id="n53-2" href="#Mr" x="136" y="2766"/><use id="n53-3" href="#Mr" x="188" y="2766"/><use id="n53-4" href="#Lr" x="240" y="2766"/><use id="n53-5" href="#Lr" x="292" y="2766"/><use id="n53-6" href="#Dr" x="344" y="2766"/><use id="n53-7" href="#Mr" x="396" y="2766"/><use id="n53-8" href="#Mr" x="448" y="2766"/><use id="n53-9" href="#Dr" x="500" y="2766"/><use id="n53-10" href="#Lr" x="552" y="2766"/>
<use id="n54-1" href="#Ll" x="84" y="2818"/><use id="n54-2" href="#Ll" x="136" y="2818"/><use id="n54-3" href="#Ml" x="188" y="2818"/><use id="n54-4" href="#Ll" x="240" y="2818"/><use id="n54-5" href="#Ll" x="292" y="2818"/><use id="n54-6" href="#Ll" x="344" y="2818"/><use id="n54-7" href="#Dl" x="396" y="2818"/><use id="n54-8" href="#Dl" x="448" y="2818"/><use id="n54-9" href="#Ll" x="500" y="2818"/><use id="n54-10" href="#Ll" x="552" y="2818"/>
<use id="n55-1" href="#Lr" x="84" y="2870"/><use id="n55-2" href="#Lr" x="136" y="2870"/><use id="n55-3" href="#Lr" x="188" y="2870"/><use id="n55-4" href="#Lr" x="240" y="2870"/><use id="n55-5" href="#Mr" x="292" y="2870"/><use id="n55-6" href="#Lr" x="344" y="2870"/><use id="n55-7" href="#Lr" x="396" y="2870"/><use id="n55-8" href="#Lr" x="448" y="2870"/><use id="n55-9" href="#Lr" x="500" y="2870"/><use id="n55-10" href="#Lr" x="552" y="2870"/>
<use id="n56-1" href="#Ll" x="84" y="2922"/><use id="n56-2" href="#Dl" x="136" y="2922"/><use id="n56-3" href="#Ll" x="188" y="2922"/><use id="n56-4" href="#Ll" x="240" y="2922"/><use id="n56-5" href="#Ml" x="292" y="2922"/><use id="n56-6" href="#Ml" x="344" y="2922"/><use id="n56-7" href="#Ll" x="396" y="2922"/><use id="n56-8" href="#Ll" x="448" y="2922"/><use id="n56-9" href="#Dl" x="500" y="2922"/><use id="n56-10" href="#Ll" x="552" y="2922"/>
<use id="n57-1" href="#Lr" x="84" y="2974"/><use id="n57-2" href="#Lr" x="136" y="2974"/><use id="n57-3" href="#Lr" x="188" y="2974"/><use id="n57-4" href="#Lr" x="240" y="2974"/><use id="n57-5" href="#Lr" x="292" y="2974"/><use id="n57-6" href="#Mr" x="344" y="2974"/><use id="n57-7" href="#Lr" x="396" y="2974"/><use id="n57-8" href="#Lr" x="448" y="2974"/><use id="n57-9" href="#Lr" x="500" y="2974"/><use id="n57-10" href="#Lr" x="552" y="2974"/>
<use id="n58-1" href="#Ll" x="84" y="3026"/><use id="n58-2" href="#Ll" x="136" y="3026"/><use id="n58-3" href="#Ll" x="188" y="3026"/><use id="n58-4" href="#Ll" x="240" y="3026"/><use id="n58-5" href="#Ll" x="292" y="3026"/><use id="n58-6" href="#Ll" x="344" y="3026"/><use id="n58-7" href="#Ll" x="396" y="3026"/><use id="n58-8" href="#Ml" x="448" y="3026"/><use id="n58-9" href="#Ll" x="500" y="3026"/><use id="n58-10" href="#Ll" x="552" y="3026"/>
<use id="n59-1" href="#Lr" x="84" y="3078"/><use id="n59-2" href="#Lr" x="136" y="3078"/><use id="n59-3" href="#Lr" x="188" y="3078"/><use id="n59-4" href="#Lr" x="240" y="3078"/><use id="n59-5" href="#Lr" x="292" y="3078"/><use id="n59-6" href="#Lr" x="344" y="3078"/><use id="n59-7" href="#Lr" x="396" y="3078"/><use id="n59-8" href="#Mr" x="448" y="3078"/><use id="n59-9" href="#Mr" x="500" y="3078"/><use id="n59-10" href="#Lr" x="552" y="3078"/>
<use id="n60-1" href="#Ll" x="84" y="3130"/><use id="n60-2" href="#Ll" x="136" y="3130"/><use id="n60-3" href="#Ll" x="188" y="3130"/><use id="n60-4" href="#Ll" x="240" y="3130"/><use id="n60-5" href="#Ll" x="292" y="3130"/><use id="n60-6" href="#Ll" x="344" y="3130"/><use id="n60-7" href="#Ll" x="396" y="3130"/><use id="n60-8" href="#Ll" x="448" y="3130"/><use id="n60-9" href="#Ml" x="500" y="3130"/><use id="n60-10" href="#Ll" x="552" y="3130"/>
<use id="n61-1" href="#Lr" x="84" y="3182"/><use id="n61-2" href="#Lr" x="136" y="3182"/><use id="n61-3" href="#Lr" x="188" y="3182"/><use id="n61-4" href="#Lr" x="240" y="3182"/><use id="n61-5" href="#Lr" x="292" y="3182"/><use id="n61-6" href="#Lr" x="344" y="3182"/><use id="n61-7" href="#Lr" x="396" y="3182"/><use id="n61-8" href="#Lr" x="448" y="3182"/><use id="n61-9" href="#Lr" x="500" y="3182"/><use id="n61-10" href="#Lr" x="552" y="3182"/>
</g>
<text id="watermark" x="318" y="1652" text-anchor="middle" font-family="Liberation Sans, Arial, sans-serif" font-size="13" font-weight="bold" fill="#333">BRACELETBOOK.COM</text>
</svg>
